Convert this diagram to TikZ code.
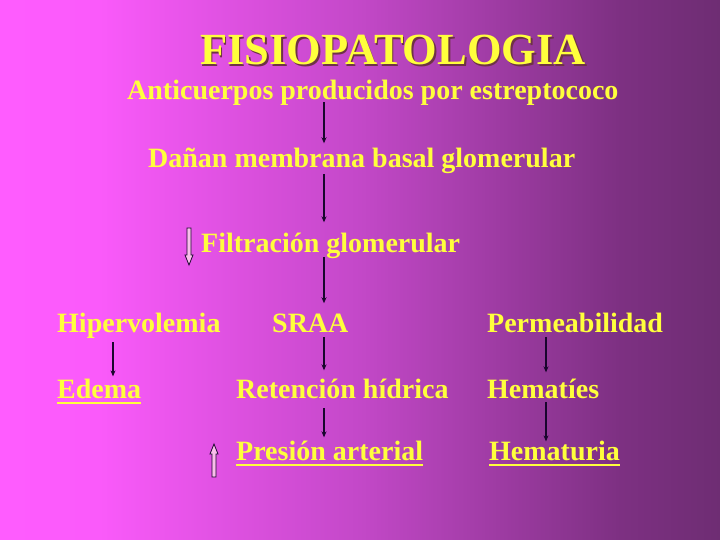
\documentclass[tikz,border=0pt]{standalone}
\usepackage{fontspec}
\setmainfont{Liberation Serif}
\usepackage{xcolor}
\usepackage{tikz}
\usetikzlibrary{arrows.meta}

\definecolor{amarillo}{RGB}{255,255,60}
\definecolor{sombra}{RGB}{110,50,70}
\definecolor{flecha}{RGB}{25,5,45}
\definecolor{rosaclaro}{RGB}{250,190,235}
\definecolor{fondoA}{RGB}{255,92,255}
\definecolor{fondoB}{RGB}{250,90,250}
\definecolor{fondoC}{RGB}{195,72,200}
\definecolor{fondoD}{RGB}{125,48,130}
\definecolor{fondoE}{RGB}{110,45,115}
\pgfdeclarehorizontalshading{fondo}{100bp}{color(0bp)=(fondoA); color(25bp)=(fondoA);
  color(31.9bp)=(fondoB); color(50bp)=(fondoC); color(68.1bp)=(fondoD);
  color(75bp)=(fondoE); color(100bp)=(fondoE)}

% texto con sombra
\newcommand{\sombreado}[1]{\makebox[0pt][l]{\hspace{1.6pt}\raisebox{-1.6pt}{\textcolor{sombra}{#1}}}#1}

\tikzset{
  texto/.style={anchor=base west, inner sep=0pt, text=amarillo,
    font=\fontsize{28}{32}\selectfont\bfseries},
  titulo/.style={anchor=base west, inner sep=0pt, text=amarillo,
    font=\fontsize{44.5}{50}\selectfont\bfseries},
  baja/.style={draw=flecha, line width=1.2pt, -{Stealth[length=6pt,width=5pt]}},
  subrayado/.style={draw=amarillo, line width=2pt},
  hueca/.style={draw=flecha, line width=0.8pt, fill=rosaclaro}
}

\begin{document}
\begin{tikzpicture}[x=1pt,y=-1pt]
  \useasboundingbox (0,0) rectangle (720,540);
  \shade[shading=fondo] (0,0) rectangle (720,540);

  % titulo
  \node[titulo] (titulo) at (200,65) {\sombreado{FISIOPATOLOGIA}};

  % cadena central
  \node[texto] (anti) at (127,100) {Anticuerpos producidos por estreptococo};
  \node[texto] (danan) at (148,168) {Dañan membrana basal glomerular};
  \node[texto] (filtr) at (201,252) {Filtración glomerular};

  % tres columnas
  \node[texto] (hiper) at (57,332) {Hipervolemia};
  \node[texto] (sraa) at (272,332) {SRAA};
  \node[texto] (perme) at (487,332) {Permeabilidad};
  \node[texto] (edema) at (57,398) {Edema};
  \node[texto] (reten) at (236,398) {Retención hídrica};
  \node[texto] (hemat) at (487,398) {Hematíes};
  \node[texto] (presion) at (236,460) {Presión arterial};
  \node[texto] (hematu) at (489,460) {Hematuria};

  % subrayados
  \draw[subrayado] ([yshift=-5pt]edema.base west) -- ([yshift=-5pt]edema.base east);
  \draw[subrayado] ([yshift=-5pt]presion.base west) -- ([yshift=-5pt]presion.base east);
  \draw[subrayado] ([yshift=-5pt]hematu.base west) -- ([yshift=-5pt]hematu.base east);

  % ejes de las flechas
  \coordinate (ejeA) at (324,0);
  \coordinate (ejeB) at (113,0);
  \coordinate (ejeC) at (546,0);

  \draw[baja, shorten <=-4pt, shorten >=5pt] (anti.south -| ejeA) -- (danan.north -| ejeA);
  \draw[baja, shorten <=0pt, shorten >=10pt] (danan.south -| ejeA) -- (filtr.north -| ejeA);
  \draw[baja, shorten <=-1pt, shorten >=10pt] (filtr.south -| ejeA) -- (sraa.north -| ejeA);
  \draw[baja, shorten <=5pt, shorten >=8pt] (sraa.south -| ejeA) -- (reten.north -| ejeA);
  \draw[baja, shorten <=10pt, shorten >=3pt] (reten.south -| ejeA) -- (presion.north -| ejeA);
  \draw[baja, shorten <=4pt, shorten >=2pt] (hiper.south -| ejeB) -- (edema.north -| ejeB);
  \draw[baja, shorten <=5pt, shorten >=6pt] (perme.south -| ejeC) -- (hemat.north -| ejeC);
  \draw[baja, shorten <=4pt, shorten >=-1pt] (hemat.south -| ejeC) -- (hematu.north -| ejeC);

  % flechas huecas
  \draw[hueca] (187,228) -- (191,228) -- (191,255) -- (193,255) -- (189,265)
    -- (185,255) -- (187,255) -- cycle;
  \draw[hueca] (212,477) -- (216,477) -- (216,454) -- (218,454) -- (214,444)
    -- (210,454) -- (212,454) -- cycle;
\end{tikzpicture}
\end{document}
